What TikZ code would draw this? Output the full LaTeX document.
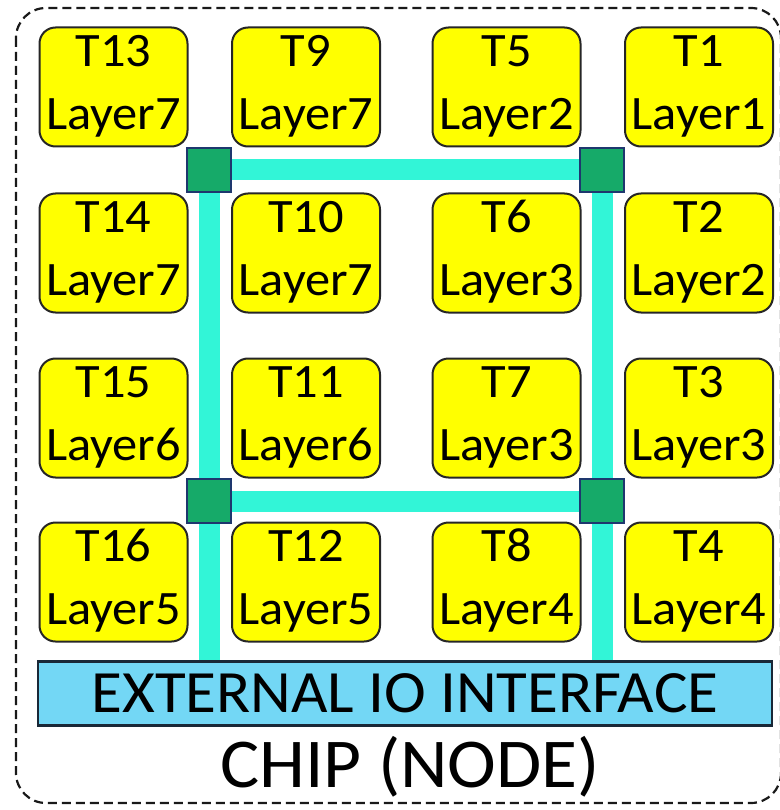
\documentclass[tikz,border=0pt]{standalone}
\usepackage{fontspec}
\setmainfont[FakeStretch=1.05]{Carlito}
\usetikzlibrary{backgrounds}
\definecolor{tileyellow}{RGB}{255,255,0}
\definecolor{linkcyan}{RGB}{50,245,215}
\definecolor{routergreen}{RGB}{22,170,105}
\definecolor{routeredge}{RGB}{30,55,110}
\definecolor{iofill}{RGB}{115,215,245}
\definecolor{ioedge}{RGB}{25,40,55}
\begin{document}
\begin{tikzpicture}[x=1pt,y=-1pt,
  tile/.style={draw=black!85, line width=2pt, fill=tileyellow, rounded corners=16pt,
    minimum width=148pt, minimum height=119pt, inner sep=0pt},
  tiletext/.style={anchor=base, inner sep=0pt, font=\fontsize{48}{56}\selectfont},
  router/.style={draw=routeredge, line width=1.3pt, fill=routergreen, minimum size=44pt, inner sep=0pt},
  link/.style={draw=linkcyan, line width=21pt, line cap=butt},
  iobar/.style={draw=ioedge, line width=2.5pt, fill=iofill, minimum width=734pt, minimum height=64pt,
    inner sep=0pt, font=\fontsize{60}{70}\selectfont},
  chiplabel/.style={anchor=base, inner sep=0pt, font=\fontsize{70}{80}\selectfont},
  chipedge/.style={draw=black!90, line width=2.2pt, dash pattern=on 9pt off 5pt, rounded corners=30pt}]
\useasboundingbox (0,0) rectangle (779,810);
\draw[chipedge] (16,8) rectangle (781,803);

\foreach \n/\lay/\x/\y in {13/7/113.5/87, 9/7/306/87, 5/2/506.5/87, 1/1/699/87,
  14/7/113.5/253, 10/7/306/253, 6/3/506.5/253, 2/2/699/253,
  15/6/113.5/418, 11/6/306/418, 7/3/506.5/418, 3/3/699/418,
  16/5/113.5/582, 12/5/306/582, 8/4/506.5/582, 4/4/699/582}{
  \node[tile] (t\n) at (\x,\y) {};
  \node[tiletext] (t\n a) at ([yshift=-40pt]t\n.north) {T\n};
  \node[tiletext] (t\n b) at ([yshift=-103pt]t\n.north) {Layer\lay};
}

\node[iobar] (io) at (405,693.5) {EXTERNAL IO INTERFACE};
\node[chiplabel] (chip) at (410,787) {CHIP (NODE)};

\node[router] (r1) at (209,170) {};
\node[router] (r2) at (602,170) {};
\node[router] (r3) at (209,501) {};
\node[router] (r4) at (602,501) {};
\coordinate (b1) at (io.north -| r3);
\coordinate (b2) at (io.north -| r4);

\begin{pgfonlayer}{background}
\draw[link] (r1.center) -- (r2.center);
\draw[link] (r3.center) -- (r4.center);
\draw[link] (r1.center) -- (r3.center) -- (b1);
\draw[link] (r2.center) -- (r4.center) -- (b2);
\end{pgfonlayer}
\end{tikzpicture}
\end{document}
